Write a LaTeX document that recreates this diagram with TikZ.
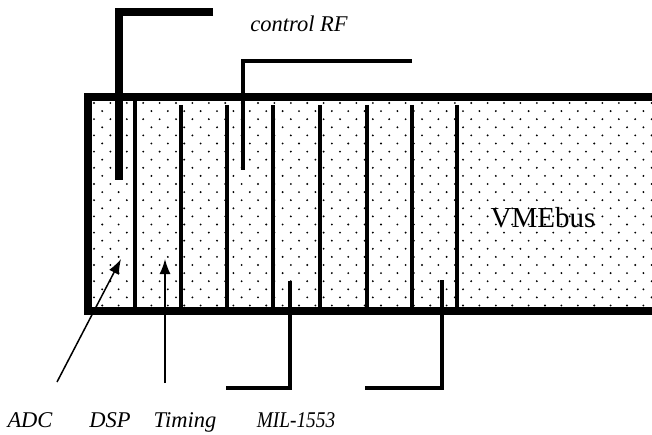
\documentclass[tikz,border=0pt]{standalone}
\usepackage{graphicx}
\usepackage{fontspec}
\setmainfont{Liberation Serif}
\usetikzlibrary{arrows.meta}
\begin{document}
\begin{tikzpicture}[x=1pt,y=-1pt,
  lbl/.style={font=\fontsize{22.5}{26}\selectfont\itshape,anchor=base,inner sep=0pt},
  card/.style={line width=4pt},
  feed/.style={line width=3.5pt,line join=miter},
  pointer/.style={line width=1.5pt,-{Latex[length=15pt,width=11pt]}}]
\useasboundingbox (0,0) rectangle (652,435);
% dotted backplane area
\begin{scope}
  \clip (88,97) rectangle (660,311);
  \foreach \r in {0,...,26}{
    \foreach \c in {0,...,35}{
      \pgfmathsetmacro{\xx}{94+\c*16.4+mod(\r,2)*8.2}
      \pgfmathsetmacro{\yy}{103+\r*8.1}
      \fill (\xx,\yy) circle (1.05);
    }
  }
\end{scope}
% box border (open at right)
\draw[line width=8pt,line join=miter] (660,97) -- (88,97) -- (88,311) -- (660,311);
% cards
\draw[card] (135,97) -- (135,311);
\foreach \x in {181,227,273,320,367,412,457}{
  \draw[card] (\x,105) -- (\x,311);
}
% feeds
\draw[line width=8pt,line join=miter] (213,12) -- (119,12) -- (119,180);
\draw[line width=4pt,line join=miter] (412,61) -- (243,61) -- (243,170);
\draw[feed] (290,281) -- (290,388) -- (226,388);
\draw[feed] (442,280) -- (442,388) -- (365,388);
% labels
\node[lbl] (crf) at (299,32) {control RF};
\node[lbl] (adc) at (30,427) {ADC};
\node[lbl] (dsp) at (110,427) {DSP};
\node[lbl] (tim) at (185,427) {Timing};
\node[lbl] (mil) at (296,427) {\scalebox{0.86}[1]{MIL-1553}};
\node[font=\fontsize{29}{34}\selectfont,anchor=base,inner sep=0pt] (vme) at (543,228) {VMEbus};
% arrows
\coordinate (adcs) at (57,382);
\coordinate (adct) at (121,259);
\coordinate (tims) at (165,383);
\coordinate (timt) at (165,259);
\draw[pointer] (adcs) -- (adct);
\draw[pointer] (tims) -- (timt);
\end{tikzpicture}
\end{document}
